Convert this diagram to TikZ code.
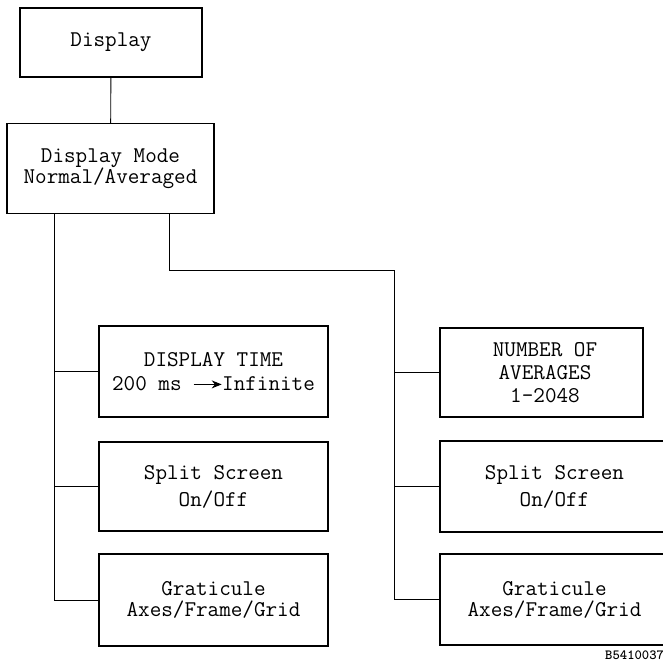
\documentclass[tikz,border=0pt]{standalone}
\usepackage{fontspec}
\usepackage{tikz}
\usetikzlibrary{arrows.meta}

\tikzset{
  box/.style={draw, line width=1.3pt, align=center, inner sep=0pt,
    font=\ttfamily\fontsize{22.5}{23}\selectfont},
  link/.style={line width=0.9pt}
}

\begin{document}
\begin{tikzpicture}[x=1pt, y=-1pt, >=stealth]
    % Cadre de la page
    \clip (0,0) rectangle (663,663);
    \useasboundingbox (0,0) rectangle (663,663);

    % Boites du haut
    \node[box, minimum width=182pt, minimum height=69pt] (disp) at (111,42.5) {Display};
    \node[box, minimum width=207pt, minimum height=90pt] (mode) at (110.5,168.5)
        {Display Mode\\[-2pt]Normal/Averaged};

    % Branche gauche
    \node[box, minimum width=229pt, minimum height=91pt] (time) at (213.5,371.5)
        {DISPLAY TIME\\[1pt]200 ms \tikz[baseline]\draw[-{Stealth[length=10pt,width=8pt]}, line width=1pt] (0pt,6pt) -- (28pt,6pt);Infinite};
    \node[box, minimum width=229pt, minimum height=89pt] (splitL) at (213.5,486.5)
        {Split Screen\\[4pt]On/Off};
    \node[box, minimum width=229pt, minimum height=92pt] (gratL) at (213.5,600)
        {Graticule\\[-2pt]Axes/Frame/Grid};

    % Branche droite
    \node[box, minimum width=203pt, minimum height=89pt] (avg) at (541.5,372.5)
        {\hspace*{7pt}NUMBER OF\\[0pt]\hspace*{7pt}AVERAGES\\[0pt]\hspace*{7pt}1–2048};
    \node[box, minimum width=229pt, minimum height=91pt] (splitR) at (554.5,486.5)
        {Split Screen\\[4pt]On/Off};
    \node[box, minimum width=229pt, minimum height=91pt] (gratR) at (554.5,599.5)
        {Graticule\\[-2pt]Axes/Frame/Grid};

    % Points de passage des liaisons
    \coordinate (busL) at (54,0);
    \coordinate (knee) at (169,270);
    \coordinate (busR) at (394,270);

    % Liaisons
    \draw[link] (disp) -- (mode);
    \draw[link] (mode.south -| busL) |- (gratL.west);
    \draw[link] (busL |- time.west) -- (time.west);
    \draw[link] (busL |- splitL.west) -- (splitL.west);
    \draw[link] (mode.south -| knee) -- (knee) -- (busR) |- (gratR.west);
    \draw[link] (busR |- avg.west) -- (avg.west);
    \draw[link] (busR |- splitR.west) -- (splitR.west);

    % Reference du dessin
    \node[anchor=west, inner sep=0pt, font=\ttfamily\bfseries\fontsize{14}{14}\selectfont]
        (ref) at (605,655) {B5410037};
\end{tikzpicture}
\end{document}
